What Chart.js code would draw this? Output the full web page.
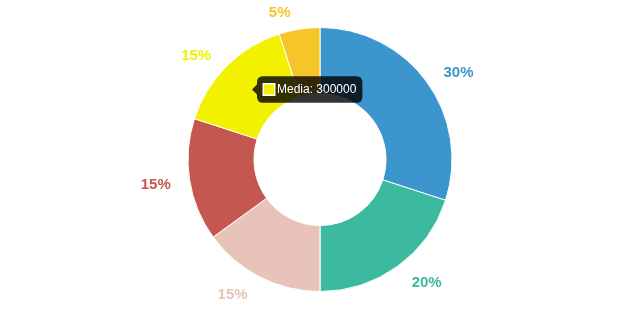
<!DOCTYPE html>
<html>
<head>
<meta charset="utf-8">
<script src="https://cdn.jsdelivr.net/npm/chart.js@4/dist/chart.umd.min.js"></script>
<style>
  html, body { margin: 0; padding: 0; background: #fff; }
  #wrap { width: 640px; height: 320px; position: relative; }
</style>
</head>
<body>
<div id="wrap"><canvas id="chart"></canvas></div>
<script>
// data
const categories = ['Directo', 'Orgánico', 'Referido', 'Social', 'Media', 'Otros']
const values = [600000, 400000, 300000, 300000, 300000, 100000]
const colors = ['#3d95ce', '#3cba9f', '#e8c3b9', '#c45850', '#f2f200', '#f6c528']

// percent labels outside each slice, coloured like the slice
const outsideLabels = {
  id: 'outsideLabels',
  afterDatasetsDraw(chart) {
    const ctx = chart.ctx
    const meta = chart.getDatasetMeta(0)
    const total = values.reduce((a, b) => a + b, 0)
    ctx.save()
    ctx.font = 'bold 15px "Liberation Sans", Arial, sans-serif'
    ctx.textBaseline = 'middle'
    meta.data.forEach((arc, i) => {
      const mid = (arc.startAngle + arc.endAngle) / 2
      const dx = Math.cos(mid)
      const dy = Math.sin(mid)
      const r = arc.outerRadius + 12
      const px = arc.x + dx * r
      const py = arc.y + dy * r
      const right = dx >= 0
      ctx.textAlign = right ? 'left' : 'right'
      ctx.fillStyle = colors[i]
      const pct = Math.round(values[i] / total * 100) + '%'
      ctx.fillText(pct, px + (right ? 7 : -7), py + dy * 6 + 2)
    })
    ctx.restore()
  }
}

Chart.defaults.font.family = '"Liberation Sans", Arial, sans-serif'

const chart = new Chart(document.getElementById('chart'), {
  type: 'doughnut',
  data: {
    labels: categories,
    datasets: [{
      data: values,
      backgroundColor: colors,
      borderColor: '#fff',
      borderWidth: 1,
      hoverOffset: 0
    }]
  },
  options: {
    responsive: true,
    maintainAspectRatio: false,
    animation: false,
    cutout: '50%',
    layout: { padding: { top: 27, bottom: 28 } },
    plugins: {
      legend: { display: false },
      tooltip: {
        callbacks: {
          title: () => '',
          label: (c) => c.label + ': ' + c.raw
        }
      }
    }
  },
  plugins: [outsideLabels]
})

// show the tooltip on the "Media" slice, as in the reference
const mediaArc = chart.getDatasetMeta(0).data[4]
const pos = mediaArc.tooltipPosition()
chart.tooltip.setActiveElements([{ datasetIndex: 0, index: 4 }], pos)
chart.update()
</script>
</body>
</html>
